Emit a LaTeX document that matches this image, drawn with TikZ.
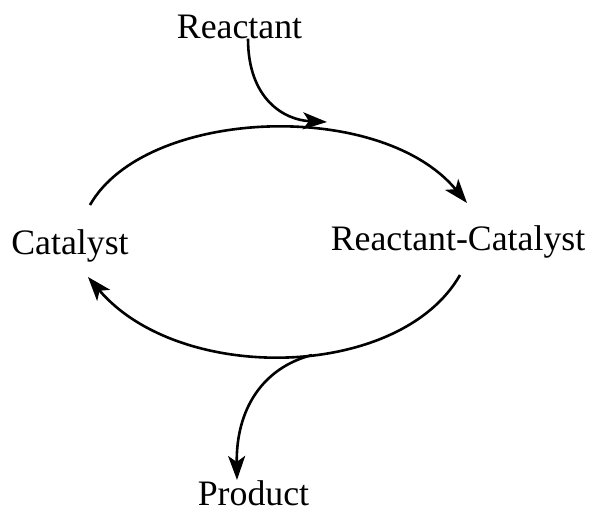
\documentclass[tikz,border=0pt]{standalone}
\usepackage{fontspec}
\setmainfont{Liberation Serif}
\usetikzlibrary{arrows.meta}
\begin{document}
\begin{tikzpicture}[x=1pt,y=-1pt,
  lbl/.style={inner sep=0pt,anchor=base,font=\fontsize{35.8}{40}\selectfont},
  flow/.style={line width=2.6pt,-{Stealth[length=24pt,width=17pt,inset=6pt]}}]
\useasboundingbox (0,0) rectangle (591,515);
% species
\node[lbl] (reac) at (239.5,38) {Reactant};
\node[lbl] (cat) at (70,254) {Catalyst};
\node[lbl] (rc) at (458,250) {Reactant-Catalyst};
\node[lbl] (prod) at (253.5,505) {Product};
% ends of the cycle arcs
\coordinate (up0) at (90,205);
\coordinate (up1) at (467,203);
\coordinate (lo0) at (460,275);
\coordinate (lo1) at (88,277);
\coordinate (rin) at (327,122);
\coordinate (pout) at (312,355);
% catalytic cycle
\draw[flow] (up0) .. controls (145,108) and (380,98) .. (up1);
\draw[flow] (lo0) .. controls (400,380) and (180,385) .. (lo1);
% reactant in, product out
\draw[flow] (reac.south -| 248,45) .. controls (248,100) and (285,120) .. (rin);
\draw[flow] (pout) .. controls (262,368) and (236,410) .. (prod.north -| 237,475);
\end{tikzpicture}
\end{document}
